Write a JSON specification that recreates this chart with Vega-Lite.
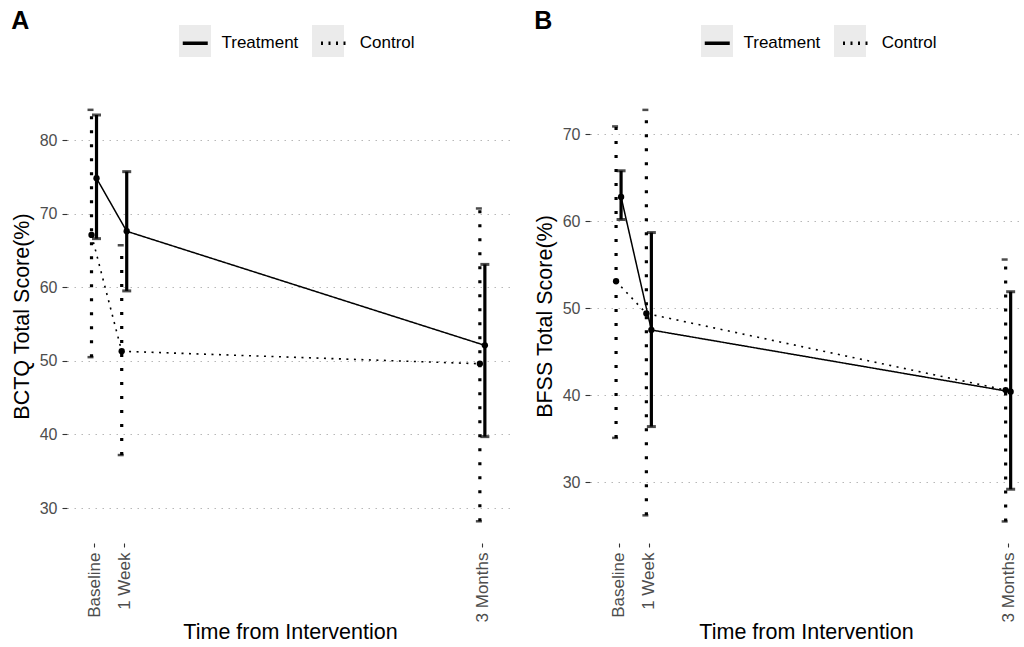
{
  "$schema": "https://vega.github.io/schema/vega-lite/v6.json",
  "background": "white",
  "padding": {"left": 11, "top": 9, "right": 0, "bottom": 0},
  "spacing": 21,
  "datasets": {
    "scores": [
      {"panel": "A", "group": "Treatment", "day": 0, "mean": 74.8, "lo": 66.6, "hi": 83.4},
      {"panel": "A", "group": "Treatment", "day": 7, "mean": 67.6, "lo": 59.5, "hi": 75.7},
      {"panel": "A", "group": "Treatment", "day": 90, "mean": 52.1, "lo": 39.7, "hi": 63.1},
      {"panel": "A", "group": "Control", "day": 0, "mean": 67.1, "lo": 50.5, "hi": 84.1},
      {"panel": "A", "group": "Control", "day": 7, "mean": 51.3, "lo": 37.2, "hi": 65.7},
      {"panel": "A", "group": "Control", "day": 90, "mean": 49.6, "lo": 28.2, "hi": 70.7},
      {"panel": "B", "group": "Treatment", "day": 0, "mean": 62.8, "lo": 60.2, "hi": 65.8},
      {"panel": "B", "group": "Treatment", "day": 7, "mean": 47.5, "lo": 36.4, "hi": 58.7},
      {"panel": "B", "group": "Treatment", "day": 90, "mean": 40.4, "lo": 29.2, "hi": 51.9},
      {"panel": "B", "group": "Control", "day": 0, "mean": 53.1, "lo": 35.1, "hi": 70.9},
      {"panel": "B", "group": "Control", "day": 7, "mean": 49.4, "lo": 26.2, "hi": 72.8},
      {"panel": "B", "group": "Control", "day": 90, "mean": 40.6, "lo": 25.5, "hi": 55.6}
    ],
    "keys": [{"key": "Treatment"}, {"key": "Control"}]
  },
  "config": {
    "font": "Liberation Sans",
    "view": {"stroke": null},
    "axis": {
      "domain": false,
      "tickColor": "#333333",
      "tickWidth": 1.1,
      "labelColor": "#4d4d4d",
      "labelFont": "Liberation Sans",
      "titleFont": "Liberation Sans",
      "titleFontWeight": "normal",
      "titleColor": "black",
      "titleFontSize": 21.5
    },
    "legend": {
      "labelFont": "Liberation Sans",
      "labelFontSize": 17,
      "labelColor": "black",
      "padding": 0
    }
  },
  "resolve": {
    "scale": {"strokeDash": "independent", "fill": "independent", "x": "independent", "y": "independent"},
    "legend": {"strokeDash": "independent", "fill": "independent"}
  },
  "hconcat": [
    {
      "title": {"text": "A", "anchor": "start", "frame": "bounds", "fontSize": 25, "fontWeight": "bold", "font": "Liberation Sans", "color": "black", "dy": 13},
      "width": 446,
      "height": 454,
      "layer": [
        {
          "data": {"name": "keys"},
          "mark": {"type": "square", "opacity": 0},
          "encoding": {
            "fill": {
              "field": "key", "type": "nominal", "sort": "descending",
              "scale": {"range": ["#000000", "#000000"]},
              "legend": {"title": null, "orient": "none", "legendX": 112, "legendY": -64, "direction": "horizontal", "zindex": 1, "symbolType": "square", "symbolSize": 1024, "symbolStrokeWidth": 0, "symbolOpacity": 0.078, "symbolFillColor": "#000000", "labelExpr": "''", "labelOffset": 0, "columnPadding": 101,
                "encode": {"symbols": {"update": {"fill": {"value": "#000000"}, "opacity": {"value": 0.078}, "strokeWidth": {"value": 0}}}}}
            }
          }
        },
        {
          "data": {"name": "scores"},
          "transform": [{"filter": "datum.panel === 'A' && datum.group === 'Treatment'"}],
          "mark": {"type": "rule", "strokeWidth": 3.2, "color": "black", "xOffset": 2.5},
          "encoding": {
            "x": {"field": "day", "type": "quantitative", "scale": {"domain": [-6.26, 97.1], "nice": false, "zero": false},
              "axis": {"values": [0, 7, 90], "labelExpr": "datum.value == 0 ? 'Baseline' : datum.value == 7 ? '1 Week' : '3 Months'", "labelAngle": -90, "labelFontSize": 17, "labelPadding": 5, "tickSize": 4, "grid": false, "title": "Time from Intervention", "titlePadding": 0, "labelFlush": false, "labelOverlap": false}},
            "y": {"field": "lo", "type": "quantitative", "scale": {"domain": [25.25, 86.93], "nice": false, "zero": false},
              "axis": {"values": [30, 40, 50, 60, 70, 80], "grid": true, "gridColor": "#b8b8b8", "gridDash": [1.5, 5.5], "gridWidth": 1.2, "labelFontSize": 16, "labelPadding": 5, "tickSize": 5, "title": "BCTQ Total Score(%)", "titlePadding": 6}},
            "y2": {"field": "hi"}
          }
        },
        {
          "data": {"name": "scores"},
          "transform": [{"filter": "datum.panel === 'A' && datum.group === 'Treatment'"}],
          "mark": {"type": "tick", "orient": "horizontal", "size": 9, "thickness": 3, "color": "black", "xOffset": 2.5},
          "encoding": {
            "x": {"field": "day", "type": "quantitative"},
            "y": {"field": "lo", "type": "quantitative"}
          }
        },
        {
          "data": {"name": "scores"},
          "transform": [{"filter": "datum.panel === 'A' && datum.group === 'Treatment'"}],
          "mark": {"type": "tick", "orient": "horizontal", "size": 9, "thickness": 3, "color": "black", "xOffset": 2.5},
          "encoding": {
            "x": {"field": "day", "type": "quantitative"},
            "y": {"field": "hi", "type": "quantitative"}
          }
        },
        {
          "data": {"name": "scores"},
          "transform": [{"filter": "datum.panel === 'A' && datum.group === 'Control'"}],
          "mark": {"type": "rule", "strokeWidth": 3.2, "color": "black", "strokeDash": [3, 11], "strokeCap": "butt", "xOffset": -2.5},
          "encoding": {
            "x": {"field": "day", "type": "quantitative"},
            "y": {"field": "lo", "type": "quantitative"},
            "y2": {"field": "hi"}
          }
        },
        {
          "data": {"name": "scores"},
          "transform": [{"filter": "datum.panel === 'A' && datum.group === 'Control'"}],
          "mark": {"type": "tick", "orient": "horizontal", "size": 6, "thickness": 2.5, "color": "black", "xOffset": -3.5},
          "encoding": {
            "x": {"field": "day", "type": "quantitative"},
            "y": {"field": "lo", "type": "quantitative"}
          }
        },
        {
          "data": {"name": "scores"},
          "transform": [{"filter": "datum.panel === 'A' && datum.group === 'Control'"}],
          "mark": {"type": "tick", "orient": "horizontal", "size": 6, "thickness": 2.5, "color": "black", "xOffset": -3.5},
          "encoding": {
            "x": {"field": "day", "type": "quantitative"},
            "y": {"field": "hi", "type": "quantitative"}
          }
        },
        {
          "data": {"name": "scores"},
          "transform": [{"filter": "datum.panel === 'A' && datum.group === 'Treatment'"}],
          "mark": {"type": "line", "strokeWidth": 1.5, "color": "black", "xOffset": 2.5},
          "encoding": {
            "x": {"field": "day", "type": "quantitative"},
            "y": {"field": "mean", "type": "quantitative"},
            "strokeDash": {"field": "group", "type": "nominal",
              "scale": {"domain": ["Treatment", "Control"], "range": [[1, 0], [2, 5.5]]},
              "legend": {"title": null, "orient": "none", "legendX": 113.75, "legendY": -60.5, "direction": "horizontal", "zindex": 2, "symbolType": "stroke", "symbolSize": 625, "symbolStrokeWidth": 3.5, "symbolStrokeColor": "black", "symbolOpacity": 1, "labelOffset": 11.75, "columnPadding": 15.25}}
          }
        },
        {
          "data": {"name": "scores"},
          "transform": [{"filter": "datum.panel === 'A' && datum.group === 'Control'"}],
          "mark": {"type": "line", "strokeWidth": 1.6, "color": "black", "xOffset": -2.5},
          "encoding": {
            "x": {"field": "day", "type": "quantitative"},
            "y": {"field": "mean", "type": "quantitative"},
            "strokeDash": {"field": "group", "type": "nominal"}
          }
        },
        {
          "data": {"name": "scores"},
          "transform": [{"filter": "datum.panel === 'A' && datum.group === 'Treatment'"}],
          "mark": {"type": "point", "filled": true, "size": 40, "color": "black", "opacity": 1, "xOffset": 2.5},
          "encoding": {
            "x": {"field": "day", "type": "quantitative"},
            "y": {"field": "mean", "type": "quantitative"}
          }
        },
        {
          "data": {"name": "scores"},
          "transform": [{"filter": "datum.panel === 'A' && datum.group === 'Control'"}],
          "mark": {"type": "point", "filled": true, "size": 40, "color": "black", "opacity": 1, "xOffset": -2.5},
          "encoding": {
            "x": {"field": "day", "type": "quantitative"},
            "y": {"field": "mean", "type": "quantitative"}
          }
        }
      ]
    },
    {
      "title": {"text": "B", "anchor": "start", "frame": "bounds", "fontSize": 25, "fontWeight": "bold", "font": "Liberation Sans", "color": "black", "dy": 13},
      "width": 432,
      "height": 454,
      "layer": [
        {
          "data": {"name": "keys"},
          "mark": {"type": "square", "opacity": 0},
          "encoding": {
            "fill": {
              "field": "key", "type": "nominal", "sort": "descending",
              "scale": {"range": ["#000000", "#000000"]},
              "legend": {"title": null, "orient": "none", "legendX": 111, "legendY": -64, "direction": "horizontal", "zindex": 1, "symbolType": "square", "symbolSize": 1024, "symbolStrokeWidth": 0, "symbolOpacity": 0.078, "symbolFillColor": "#000000", "labelExpr": "''", "labelOffset": 0, "columnPadding": 101,
                "encode": {"symbols": {"update": {"fill": {"value": "#000000"}, "opacity": {"value": 0.078}, "strokeWidth": {"value": 0}}}}}
            }
          }
        },
        {
          "data": {"name": "scores"},
          "transform": [{"filter": "datum.panel === 'B' && datum.group === 'Treatment'"}],
          "mark": {"type": "rule", "strokeWidth": 3.2, "color": "black", "xOffset": 2.5},
          "encoding": {
            "x": {"field": "day", "type": "quantitative", "scale": {"domain": [-6.6, 93.2], "nice": false, "zero": false},
              "axis": {"values": [0, 7, 90], "labelExpr": "datum.value == 0 ? 'Baseline' : datum.value == 7 ? '1 Week' : '3 Months'", "labelAngle": -90, "labelFontSize": 17, "labelPadding": 5, "tickSize": 4, "grid": false, "title": "Time from Intervention", "titlePadding": 0, "labelFlush": false, "labelOverlap": false}},
            "y": {"field": "lo", "type": "quantitative", "scale": {"domain": [23.02, 75.2], "nice": false, "zero": false},
              "axis": {"values": [30, 40, 50, 60, 70], "grid": true, "gridColor": "#b8b8b8", "gridDash": [1.5, 5.5], "gridWidth": 1.2, "labelFontSize": 16, "labelPadding": 5, "tickSize": 5, "title": "BFSS Total Score(%)", "titlePadding": 6}},
            "y2": {"field": "hi"}
          }
        },
        {
          "data": {"name": "scores"},
          "transform": [{"filter": "datum.panel === 'B' && datum.group === 'Treatment'"}],
          "mark": {"type": "tick", "orient": "horizontal", "size": 9, "thickness": 3, "color": "black", "xOffset": 2.5},
          "encoding": {
            "x": {"field": "day", "type": "quantitative"},
            "y": {"field": "lo", "type": "quantitative"}
          }
        },
        {
          "data": {"name": "scores"},
          "transform": [{"filter": "datum.panel === 'B' && datum.group === 'Treatment'"}],
          "mark": {"type": "tick", "orient": "horizontal", "size": 9, "thickness": 3, "color": "black", "xOffset": 2.5},
          "encoding": {
            "x": {"field": "day", "type": "quantitative"},
            "y": {"field": "hi", "type": "quantitative"}
          }
        },
        {
          "data": {"name": "scores"},
          "transform": [{"filter": "datum.panel === 'B' && datum.group === 'Control'"}],
          "mark": {"type": "rule", "strokeWidth": 3.2, "color": "black", "strokeDash": [3, 11], "strokeCap": "butt", "xOffset": -2.5},
          "encoding": {
            "x": {"field": "day", "type": "quantitative"},
            "y": {"field": "lo", "type": "quantitative"},
            "y2": {"field": "hi"}
          }
        },
        {
          "data": {"name": "scores"},
          "transform": [{"filter": "datum.panel === 'B' && datum.group === 'Control'"}],
          "mark": {"type": "tick", "orient": "horizontal", "size": 6, "thickness": 2.5, "color": "black", "xOffset": -3.5},
          "encoding": {
            "x": {"field": "day", "type": "quantitative"},
            "y": {"field": "lo", "type": "quantitative"}
          }
        },
        {
          "data": {"name": "scores"},
          "transform": [{"filter": "datum.panel === 'B' && datum.group === 'Control'"}],
          "mark": {"type": "tick", "orient": "horizontal", "size": 6, "thickness": 2.5, "color": "black", "xOffset": -3.5},
          "encoding": {
            "x": {"field": "day", "type": "quantitative"},
            "y": {"field": "hi", "type": "quantitative"}
          }
        },
        {
          "data": {"name": "scores"},
          "transform": [{"filter": "datum.panel === 'B' && datum.group === 'Treatment'"}],
          "mark": {"type": "line", "strokeWidth": 1.5, "color": "black", "xOffset": 2.5},
          "encoding": {
            "x": {"field": "day", "type": "quantitative"},
            "y": {"field": "mean", "type": "quantitative"},
            "strokeDash": {"field": "group", "type": "nominal",
              "scale": {"domain": ["Treatment", "Control"], "range": [[1, 0], [2, 5.5]]},
              "legend": {"title": null, "orient": "none", "legendX": 112.75, "legendY": -60.5, "direction": "horizontal", "zindex": 2, "symbolType": "stroke", "symbolSize": 625, "symbolStrokeWidth": 3.5, "symbolStrokeColor": "black", "symbolOpacity": 1, "labelOffset": 11.75, "columnPadding": 15.25}}
          }
        },
        {
          "data": {"name": "scores"},
          "transform": [{"filter": "datum.panel === 'B' && datum.group === 'Control'"}],
          "mark": {"type": "line", "strokeWidth": 1.6, "color": "black", "xOffset": -2.5},
          "encoding": {
            "x": {"field": "day", "type": "quantitative"},
            "y": {"field": "mean", "type": "quantitative"},
            "strokeDash": {"field": "group", "type": "nominal"}
          }
        },
        {
          "data": {"name": "scores"},
          "transform": [{"filter": "datum.panel === 'B' && datum.group === 'Treatment'"}],
          "mark": {"type": "point", "filled": true, "size": 40, "color": "black", "opacity": 1, "xOffset": 2.5},
          "encoding": {
            "x": {"field": "day", "type": "quantitative"},
            "y": {"field": "mean", "type": "quantitative"}
          }
        },
        {
          "data": {"name": "scores"},
          "transform": [{"filter": "datum.panel === 'B' && datum.group === 'Control'"}],
          "mark": {"type": "point", "filled": true, "size": 40, "color": "black", "opacity": 1, "xOffset": -2.5},
          "encoding": {
            "x": {"field": "day", "type": "quantitative"},
            "y": {"field": "mean", "type": "quantitative"}
          }
        }
      ]
    }
  ]
}
